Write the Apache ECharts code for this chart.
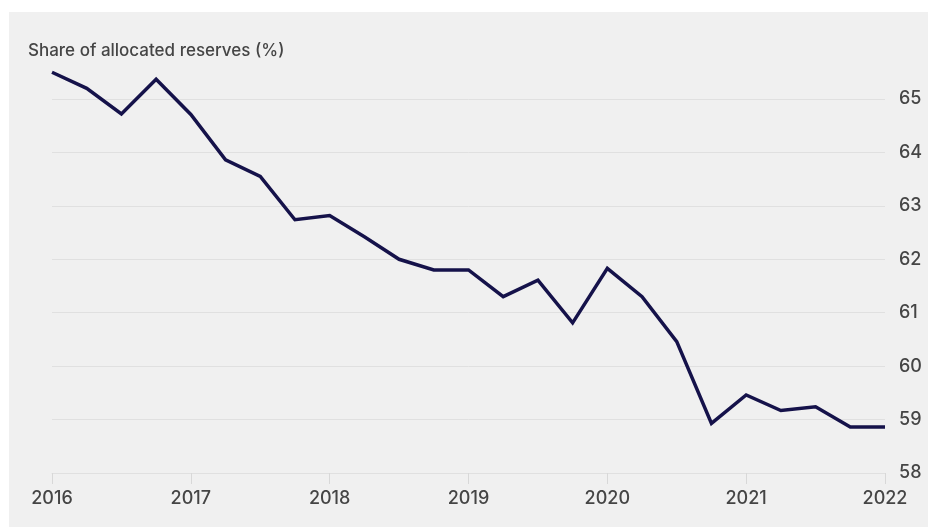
<!DOCTYPE html>
<html>
<head>
<meta charset="utf-8">
<title>Share of allocated reserves</title>
<script src="https://cdn.jsdelivr.net/npm/echarts@6/dist/echarts.min.js"></script>
<style>
  html, body { margin: 0; padding: 0; background: #ffffff; }
  #chart { width: 928px; height: 527px; }
</style>
</head>
<body>
<div id="chart"></div>
<script>
// Quarterly observations, Q1 2016 through Q1 2022
const quarters = [
  '2016-01', '2016-04', '2016-07', '2016-10',
  '2017-01', '2017-04', '2017-07', '2017-10',
  '2018-01', '2018-04', '2018-07', '2018-10',
  '2019-01', '2019-04', '2019-07', '2019-10',
  '2020-01', '2020-04', '2020-07', '2020-10',
  '2021-01', '2021-04', '2021-07', '2021-10',
  '2022-01'
];

// Share of allocated reserves, percent
const shareValues = [
  65.50, 65.20, 64.72, 65.37,
  64.71, 63.86, 63.55, 62.74,
  62.82, 62.42, 62.00, 61.80,
  61.80, 61.30, 61.61, 60.81,
  61.83, 61.30, 60.46, 58.93,
  59.46, 59.17, 59.24, 58.86,
  58.86
];

const yTicks = [58, 59, 60, 61, 62, 63, 64, 65];
const titleText = 'Share of allocated reserves (%)';

const FONT = 'Inter, "Noto Sans", sans-serif';
const TEXT = '#454545';

const chart = echarts.init(document.getElementById('chart'), null, { renderer: 'canvas' });

chart.setOption({
  backgroundColor: '#ffffff',
  animation: false,
  graphic: [
    {
      type: 'rect',
      z: -10,
      silent: true,
      shape: { x: 9, y: 12, width: 928 - 9, height: 527 - 12 },
      style: { fill: '#f0f0f0' }
    }
  ],
  title: {
    text: titleText,
    left: 23,
    top: 37,
    textStyle: {
      fontFamily: FONT,
      fontSize: 17,
      fontWeight: 500,
      color: TEXT
    }
  },
  grid: {
    left: 52,
    right: 43,
    top: 99,
    bottom: 527 - 473,
    containLabel: false,
    outerBoundsMode: 'none'
  },
  xAxis: {
    type: 'category',
    data: quarters,
    boundaryGap: false,
    axisLine: { show: true, lineStyle: { color: '#e0e0e0', width: 1 } },
    axisTick: {
      show: true,
      interval: 3,
      length: 11,
      lineStyle: { color: '#d8d8d8', width: 1 }
    },
    axisLabel: {
      interval: 3,
      margin: 17,
      fontFamily: FONT,
      fontSize: 18,
      fontWeight: 500,
      color: TEXT,
      formatter: v => v.slice(0, 4)
    },
    splitLine: { show: false }
  },
  yAxis: {
    type: 'value',
    position: 'right',
    min: yTicks[0],
    max: yTicks[yTicks.length - 1],
    interval: 1,
    axisLine: { show: false },
    axisTick: { show: false },
    axisLabel: {
      margin: 14,
      align: 'left',
      fontFamily: FONT,
      fontSize: 18,
      fontWeight: 500,
      color: TEXT
    },
    splitLine: { show: true, lineStyle: { color: '#e0e0e0', width: 1 } }
  },
  series: [
    {
      type: 'line',
      data: shareValues,
      clip: false,
      symbol: 'none',
      lineStyle: { color: '#15124a', width: 3.5, join: 'miter' },
      itemStyle: { color: '#15124a' }
    }
  ]
});
</script>
</body>
</html>
